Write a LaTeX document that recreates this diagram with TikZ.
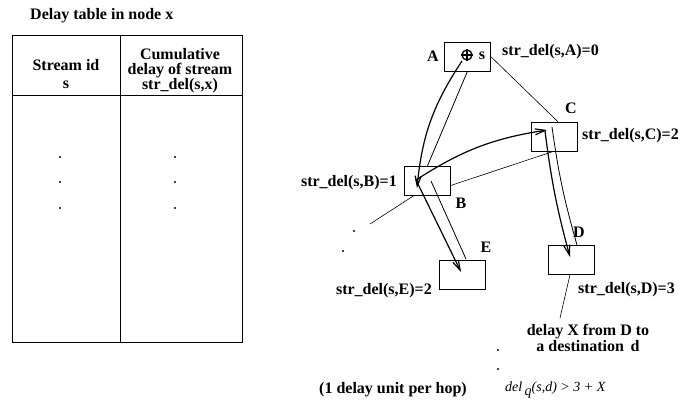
\documentclass[tikz,border=0pt]{standalone}
\usepackage{fontspec}
\setmainfont{Liberation Serif}
\usepackage{tikz}
\usetikzlibrary{arrows.meta}

\begin{document}
\begin{tikzpicture}[x=1pt,y=-1pt,
      hop/.style={draw,minimum width=46pt,minimum height=29pt,inner sep=0pt},
      lbl/.style={font=\bfseries\fontsize{16}{16}\selectfont,inner sep=0pt},
      route/.style={line width=1.2pt,-{Straight Barb[length=10pt,width=6pt]}},
      rail/.style={line width=0.8pt},
      link/.style={line width=0.6pt}]
    \useasboundingbox (0,0) rectangle (682,409);
    % delay table
    \node[lbl,anchor=west] (title) at (30,16) {Delay table in node x};
    \draw[line width=0.6pt] (12,35) rectangle (242,342);
    \draw[line width=0.6pt] (12,95) -- (242,95) (120,35) -- (120,342);
    \node[lbl,align=center,font=\bfseries\fontsize{16}{18}\selectfont] (colid) at (66,74) {Stream id\\s};
    \node[lbl,align=center,font=\bfseries\fontsize{16}{14.5}\selectfont] (colcum) at (180,71)
         {Cumulative\\delay of stream\\str\_del(s,x)};
    \foreach \y in {157,182,208} {
      \fill (60,\y) circle (1.1pt);
      \fill (175,\y) circle (1.1pt);
    }
    % nodes of the network
    \node[hop] (A) at (467.5,56.5) {};
    \node[hop] (B) at (427.5,180.5) {};
    \node[hop] (C) at (554,136.5) {};
    \node[hop] (E) at (462,274.5) {};
    \node[hop] (D) at (571,260) {};
    \node[circle,draw,line width=1.3pt,minimum size=10pt,inner sep=0pt] (src) at (467,55) {};
    \draw[line width=1.3pt] (src.north) -- (src.south) (src.west) -- (src.east);
    \node[lbl] at (482,56) {s};
    \node[lbl] (nA) at (433,56) {A};
    \node[lbl] (nB) at (461,203) {B};
    \node[lbl] (nC) at (571,108) {C};
    \node[lbl] (nD) at (579,232) {D};
    \node[lbl] (nE) at (486,247) {E};
    \node[lbl,anchor=west] (dA) at (502,52) {str\_del(s,A)=0};
    \node[lbl,anchor=west] (dC) at (582,136) {str\_del(s,C)=2};
    \node[lbl,anchor=east] (dB) at (397,183) {str\_del(s,B)=1};
    \node[lbl,anchor=east] (dE) at (432,291) {str\_del(s,E)=2};
    \node[lbl,anchor=west] (dD) at (578,290) {str\_del(s,D)=3};
    \node[lbl,align=center] (dest) at (588,338) {delay X from D to\\a destination\, d};
    \node[lbl] (unit) at (393,390) {(1 delay unit per hop)};
    \node[inner sep=0pt,anchor=west,font=\itshape\fontsize{14}{14}\selectfont] (bound) at (505,390)
         {del\,\raisebox{-4.5pt}{q}(s,d) \textgreater{} 3 + X};
    % route points
    \coordinate (a1) at (462,61);
    \coordinate (b1) at (417,188);
    \coordinate (b2) at (416,180);
    \coordinate (b3) at (431,181);
    \coordinate (c1) at (547,130);
    \coordinate (c2) at (545,131);
    \coordinate (c3) at (552,127);
    \coordinate (e1) at (461,272);
    \coordinate (e2) at (466,259);
    \coordinate (d1) at (570,257);
    \coordinate (d2) at (577,245);
    \coordinate (out) at (370,224);
    \coordinate (tail) at (560,318);
    % links
    \draw[link] (A.east) -- ([xshift=4pt]C.north);
    \draw[link] ([yshift=-5pt]B.east) -- (C.south);
    \draw[link] ([xshift=-13pt]B.south) -- (out);
    \draw[link] ([xshift=-1pt]D.south) -- (tail);
    % stream route
    \draw[rail] (A.south) -- (B.north);
    \draw[route] (a1) to[bend right=14] (b1);
    \draw[route] (b2) to[bend left=12] (c1);
    \draw[rail] (c3) to[bend right=4] (d2);
    \draw[route] (c2) to[bend right=4] (d1);
    \draw[rail] (b3) -- (e2);
    \draw[route] (b2) -- (e1);
    % dots
    \foreach \p in {(354,231),(343,251),(498,350),(498,369)}
      \fill \p circle (1.1pt);
  \end{tikzpicture}
\end{document}
